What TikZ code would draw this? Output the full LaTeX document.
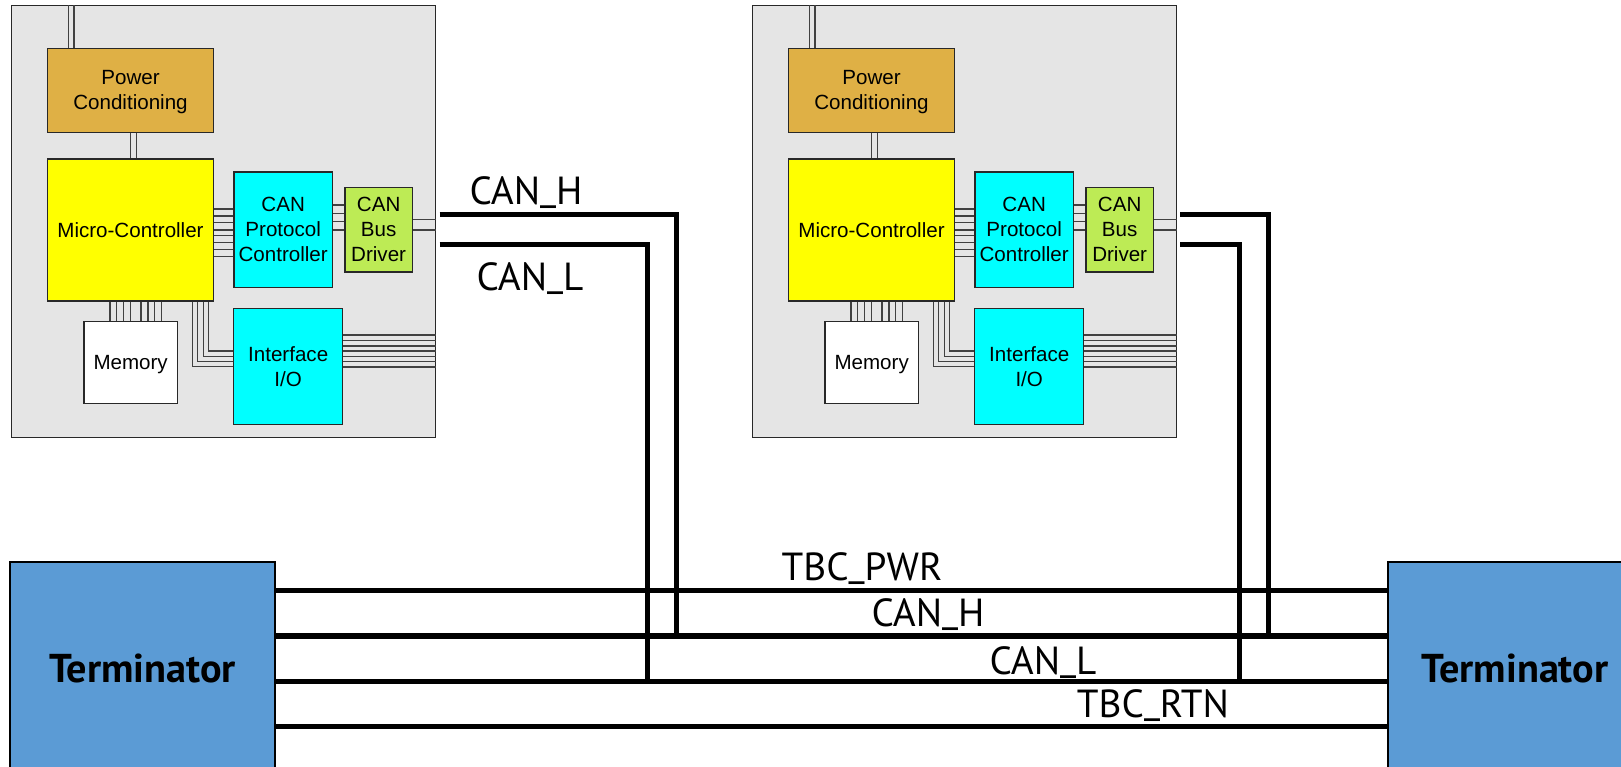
\documentclass[tikz,border=0pt]{standalone}
\usepackage{fontspec}
\setmainfont{Liberation Sans}
\newfontfamily\busfont{PT Sans}
\usetikzlibrary{positioning}
\definecolor{boardcolor}{RGB}{229,229,229}
\definecolor{powercolor}{RGB}{223,176,69}
\definecolor{mcucolor}{RGB}{255,255,0}
\definecolor{protocolcolor}{RGB}{0,255,255}
\definecolor{drivercolor}{RGB}{189,235,85}
\definecolor{termcolor}{RGB}{91,155,213}
\definecolor{bordercolor}{RGB}{40,40,40}
\definecolor{wirecolor}{RGB}{65,65,65}
\newcommand{\dropped}[1]{\raisebox{-1.1pt}[\height][\depth]{#1}}
\newcommand{\busbar}{\raisebox{2.4pt}[0pt][0pt]{\_}}
\tikzset{
    module/.style={
        rectangle,
        inner sep=0pt,
        align=center,
        draw=bordercolor,
        line width=0.8pt,
        font=\fontsize{11.7}{14.2}\selectfont
    },
    boardmodule/.style={module, fill=boardcolor, minimum width=8.48cm, minimum height=8.64cm},
    powermodule/.style={module, fill=powercolor, minimum width=3.312cm, minimum height=1.688cm},
    mcumodule/.style={module, fill=mcucolor, minimum width=3.312cm, minimum height=2.84cm},
    protocolmodule/.style={module, fill=protocolcolor, minimum width=1.966cm, minimum height=2.314cm},
    drivermodule/.style={module, fill=drivercolor, minimum width=1.346cm, minimum height=1.686cm},
    memorymodule/.style={module, fill=white, minimum width=1.866cm, minimum height=1.64cm},
    iomodule/.style={module, fill=protocolcolor, minimum width=2.18cm, minimum height=2.32cm},
    termmodule/.style={module, fill=termcolor, draw=black, line width=1.1pt, minimum height=4.21cm,
        font=\busfont\fontsize{22.9}{27}\selectfont\bfseries},
    buslabel/.style={inner sep=0pt, font=\busfont\fontsize{22.3}{26}\selectfont},
    wire/.style={line width=0.6pt, color=wirecolor},
    bus/.style={line width=2.85pt, color=black}
}
\begin{document}
\begin{tikzpicture}
    \useasboundingbox (0,0) rectangle (32.42,15.32);
    \clip (0,0) rectangle (32.42,15.32);

    % Boards
    \foreach \b/\dx in {left/0,right/14.82} {
    \begin{scope}[xshift=\dx cm]
        \node[boardmodule] (board\b) at (4.474,10.886) {};
        \node[powermodule] (power\b) at (2.61,13.51) {\dropped{Power}\\\dropped{Conditioning}};
        \node[mcumodule] (mcu\b) at (2.61,10.72) {Micro-Controller};
        \node[protocolmodule] (protocol\b) at (5.663,10.723) {CAN\\Protocol\\Controller};
        \node[drivermodule] (driver\b) at (7.573,10.723) {CAN\\Bus\\Driver};
        \node[memorymodule] (memory\b) at (2.613,8.066) {\dropped{Memory}};
        \node[iomodule] (io\b) at (5.764,7.986) {Interface\\I/O};

        % Wires
        \foreach \x in {1.374,1.48}
            \draw[wire] (power\b.north -| \x,0) -- (board\b.north -| \x,0);
        \foreach \x in {2.614,2.726}
            \draw[wire] (power\b.south -| \x,0) -- (mcu\b.north -| \x,0);
        \foreach \y in {11.14,11.0,10.866,10.72,10.606,10.474,10.334,10.194}
            \draw[wire] (mcu\b.east |- 0,\y) -- (protocol\b.west |- 0,\y);
        \foreach \y in {11.22,11.054,10.886,10.72}
            \draw[wire] (protocol\b.east |- 0,\y) -- (driver\b.west |- 0,\y);
        \foreach \y in {10.934,10.72}
            \draw[wire] (driver\b.east |- 0,\y) -- (board\b.east |- 0,\y);
        \foreach \x in {2.2,2.334,2.474,2.614,2.82,2.96,3.094,3.234}
            \draw[wire] (mcu\b.south -| \x,0) -- (memory\b.north -| \x,0);
        \foreach \x/\y in {3.854/7.986,3.954/8.086,4.066/8.186,4.174/8.3}
            \draw[wire] (mcu\b.south -| \x,0) |- (io\b.west |- 0,\y);
        \foreach \y in {8.62,8.506,8.4,8.3,8.194,8.086,7.98}
            \draw[wire] (io\b.east |- 0,\y) -- (board\b.east |- 0,\y);
    \end{scope}
    }

    % Terminators
    \node[termmodule, minimum width=5.3cm] (termleft) at (2.85,1.98) {\dropped{Terminator}};
    \node[termmodule, minimum width=5.08cm] (termright) at (30.3,1.98) {\dropped{Terminator}};

    % Bus lines
    \foreach \y in {3.506,2.6,1.694,0.8}
        \draw[bus] (termleft.east |- 0,\y) -- (termright.west |- 0,\y);

    % Stubs
    \coordinate (hleft) at (8.79,11.034);
    \coordinate (lleft) at (8.79,10.434);
    \coordinate (hright) at (23.6,11.034);
    \coordinate (lright) at (23.6,10.434);
    \coordinate (hlefttee) at (13.52,2.6);
    \coordinate (llefttee) at (12.94,1.694);
    \coordinate (hrighttee) at (25.37,2.6);
    \coordinate (lrighttee) at (24.784,1.694);
    \draw[bus] (hleft) -| (hlefttee);
    \draw[bus] (lleft) -| (llefttee);
    \draw[bus] (hright) -| (hrighttee);
    \draw[bus] (lright) -| (lrighttee);

    % Labels
    \node[buslabel] (canhtop) at (10.52,11.5) {CAN\busbar H};
    \node[buslabel] (canltop) at (10.6,9.786) {CAN\busbar L};
    \node[buslabel] (pwr) at (17.24,3.976) {TBC\busbar PWR};
    \node[buslabel] (canh) at (18.56,3.066) {CAN\busbar H};
    \node[buslabel] (canl) at (20.86,2.106) {CAN\busbar L};
    \node[buslabel] (rtn) at (23.06,1.24) {TBC\busbar RTN};
\end{tikzpicture}
\end{document}
